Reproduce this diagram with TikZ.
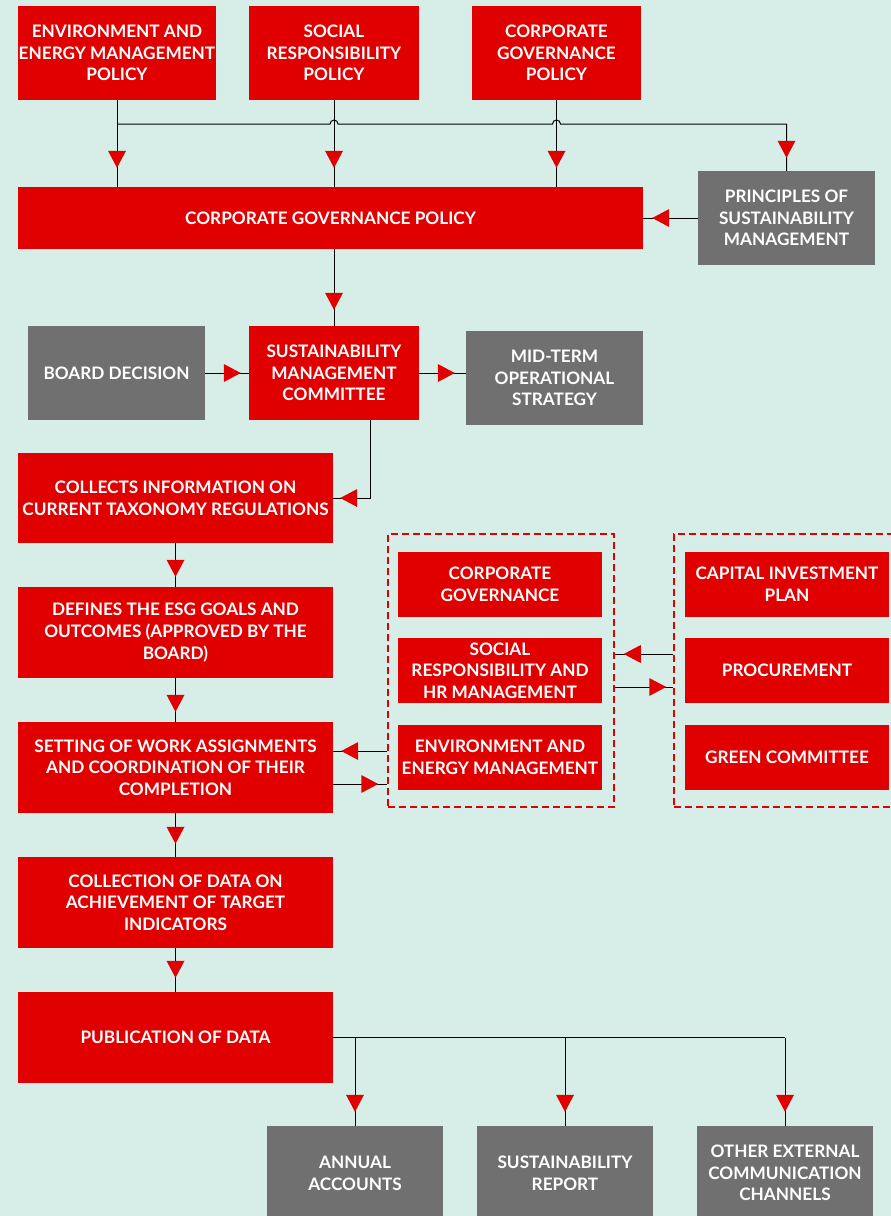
\documentclass[tikz,border=0pt]{standalone}
\usepackage{fontspec}
\setmainfont{Lato}
\usetikzlibrary{calc,decorations.markings}
\definecolor{bg}{HTML}{D7EEE8}
\definecolor{boxred}{HTML}{E10000}
\definecolor{boxgrey}{HTML}{707070}

\begin{document}
\begin{tikzpicture}[x=1pt,y=-1pt,
  box/.style={rectangle, inner sep=0pt, align=center, text=white,
    font=\bfseries\fontsize{17.2}{21.7}\selectfont},
  sz/.style 2 args={minimum width=#1pt, minimum height=#2pt},
  redbox/.style={box, fill=boxred},
  greybox/.style={box, fill=boxgrey},
  groupbox/.style={rectangle, draw=boxred, line width=1.5pt,
    dash pattern=on 7pt off 4pt, inner sep=0pt},
  conn/.style={draw=black, line width=1pt},
  redtip/.style={postaction={decorate, decoration={markings,
    mark=at position -#1 with {\fill[boxred] (0pt,0pt) -- (-17pt,9pt) -- (-17pt,-9pt) -- cycle;}}}}
]
% canvas
\fill[bg] (0,0) rectangle (891,1216);
\useasboundingbox (0,0) rectangle (891,1216);

% policies
\node[redbox, sz={198}{94}] (envp)  at (117,53)   {ENVIRONMENT AND\\ENERGY MANAGEMENT\\POLICY};
\node[redbox, sz={170}{94}] (socp)  at (334,53)   {SOCIAL\\RESPONSIBILITY\\POLICY};
\node[redbox, sz={169}{94}] (corpp) at (556.5,53) {CORPORATE\\GOVERNANCE\\POLICY};
\node[redbox, sz={625}{62}] (cgp)   at (330.5,218) {CORPORATE GOVERNANCE POLICY};
\node[greybox, sz={177}{94}] (psm)  at (786.5,218) {PRINCIPLES OF\\SUSTAINABILITY\\MANAGEMENT};

% committee row
\node[greybox, sz={177}{94}] (board) at (116.5,373) {BOARD DECISION};
\node[redbox, sz={170}{94}] (smc)    at (334,373)   {SUSTAINABILITY\\MANAGEMENT\\COMMITTEE};
\node[greybox, sz={177}{94}] (mid)   at (554.5,378) {MID-TERM\\OPERATIONAL\\STRATEGY};

% main process chain
\node[redbox, sz={315}{90}] (collects) at (175.5,498)   {COLLECTS INFORMATION ON\\CURRENT TAXONOMY REGULATIONS};
\node[redbox, sz={315}{91}] (defines)  at (175.5,632.5) {DEFINES THE ESG GOALS AND\\OUTCOMES (APPROVED BY THE\\BOARD)};
\node[redbox, sz={315}{91}] (setting)  at (175.5,767.5) {SETTING OF WORK ASSIGNMENTS\\AND COORDINATION OF THEIR\\COMPLETION};
\node[redbox, sz={315}{91}] (colldata) at (175.5,902.5) {COLLECTION OF DATA ON\\ACHIEVEMENT OF TARGET\\INDICATORS};
\node[redbox, sz={315}{91}] (pub)      at (175.5,1037.5) {PUBLICATION OF DATA};

% grouped areas
\node[groupbox, sz={226}{273}] (ldash) at (501,670.5) {};
\node[groupbox, sz={221}{273}] (rdash) at (784.5,670.5) {};
\node[redbox, sz={204}{65}] (cg)    at (500,584.5) {CORPORATE\\GOVERNANCE};
\node[redbox, sz={204}{65}] (srhr)  at (500,670.5) {SOCIAL\\RESPONSIBILITY AND\\HR MANAGEMENT};
\node[redbox, sz={204}{65}] (eem)   at (500,757.5) {ENVIRONMENT AND\\ENERGY MANAGEMENT};
\node[redbox, sz={204}{65}] (cip)   at (787,584.5) {CAPITAL INVESTMENT\\PLAN};
\node[redbox, sz={204}{65}] (proc)  at (787,670.5) {PROCUREMENT};
\node[redbox, sz={204}{65}] (green) at (787,757.5) {GREEN COMMITTEE};

% outputs
\node[greybox, sz={176}{94}] (annual)  at (355,1173) {ANNUAL\\ACCOUNTS};
\node[greybox, sz={176}{94}] (sustrep) at (565,1173) {SUSTAINABILITY\\REPORT};
\node[greybox, sz={176}{94}] (other)   at (785,1173) {OTHER EXTERNAL\\COMMUNICATION\\CHANNELS};

% policy connectors
\coordinate (hj) at (117,124);
\draw[conn, redtip=19pt] (envp.south) -- (envp.south |- cgp.north);
\draw[conn, redtip=19pt] (socp.south) -- (socp.south |- cgp.north);
\draw[conn, redtip=19pt] (corpp.south) -- (corpp.south |- cgp.north);
\draw[conn, redtip=13pt] (envp.south |- hj)
  -- ($(socp.south |- hj)+(-4,0)$) arc[start angle=180, end angle=0, radius=4pt]
  -- ($(corpp.south |- hj)+(-4,0)$) arc[start angle=180, end angle=0, radius=4pt]
  -- (psm.north |- hj) -- (psm.north);
\draw[conn, redtip=9pt] (psm.west) -- (cgp.east);
\draw[conn, redtip=16pt] (smc.north |- cgp.south) -- (smc.north);

% committee connectors
\draw[conn, redtip=8pt] (board.east) -- (smc.west);
\draw[conn, redtip=11pt] (smc.east) -- (mid.west |- smc.east);
\draw[conn, redtip=7pt] ([xshift=36pt]smc.south) |- (collects.east);

% chain connectors
\draw[conn, redtip=10pt] (collects.south) -- (defines.north);
\draw[conn, redtip=10pt] (defines.south) -- (setting.north);
\draw[conn, redtip=13pt] (setting.south) -- (colldata.north);
\draw[conn, redtip=14pt] (colldata.south) -- (pub.north);

% links with the grouped areas
\coordinate (su) at ([yshift=16.5pt]setting.east);
\coordinate (sd) at ([yshift=-16.5pt]setting.east);
\draw[conn, redtip=8pt] (ldash.west |- su) -- (su);
\draw[conn, redtip=9pt] (sd) -- (ldash.west |- sd);
\coordinate (pu) at ([yshift=16.5pt]rdash.west);
\coordinate (pd) at ([yshift=-16.5pt]rdash.west);
\draw[conn, redtip=9pt] (pu) -- (ldash.east |- pu);
\draw[conn, redtip=7pt] (ldash.east |- pd) -- (pd);

% publication outputs
\draw[conn] (pub.east) -- (other.north |- pub.east);
\draw[conn, redtip=14pt] (annual.north |- pub.east) -- (annual.north);
\draw[conn, redtip=14pt] (sustrep.north |- pub.east) -- (sustrep.north);
\draw[conn, redtip=14pt] (other.north |- pub.east) -- (other.north);
\end{tikzpicture}
\end{document}
